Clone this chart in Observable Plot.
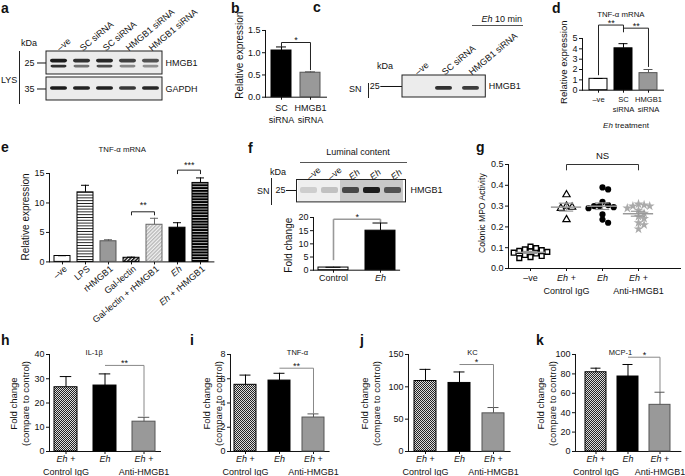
<!DOCTYPE html>
<html><head><meta charset="utf-8">
<script src="https://cdn.jsdelivr.net/npm/d3@7"></script>
<script src="https://cdn.jsdelivr.net/npm/@observablehq/plot@0.6"></script>
<style>
html,body{margin:0;padding:0;background:#fff;}
#fig{position:relative;width:685px;height:476px;overflow:hidden;font-family:"Liberation Sans",Arial,sans-serif;color:#111;background:#fff;}
.t{position:absolute;white-space:nowrap;line-height:1;}
.vl{position:absolute;border-left:1px solid #222;width:0;}
.hl{position:absolute;border-top:1px solid #555;height:0;}
</style></head>
<body>
<svg width="0" height="0" style="position:absolute">
<defs>
<pattern id="pLPS" width="4" height="2.8" patternUnits="userSpaceOnUse"><rect width="4" height="2.8" fill="#fff"/><rect y="0" width="4" height="0.9" fill="#111"/></pattern>
<pattern id="pEhR" width="4" height="2.8" patternUnits="userSpaceOnUse"><rect width="4" height="2.8" fill="#000"/><rect y="0" width="4" height="0.8" fill="#ddd"/></pattern>
<pattern id="pGal" width="2.6" height="2.6" patternUnits="userSpaceOnUse" patternTransform="rotate(45)"><rect width="2.6" height="2.6" fill="#fff"/><rect width="1.5" height="2.6" fill="#111"/></pattern>
<pattern id="pGalR" width="2.6" height="2.6" patternUnits="userSpaceOnUse" patternTransform="rotate(45)"><rect width="2.6" height="2.6" fill="#f4f4f4"/><rect width="1.4" height="2.6" fill="#b8b8b8"/></pattern>
<pattern id="pIgG" width="2" height="2" patternUnits="userSpaceOnUse"><rect width="2" height="2" fill="#ddd"/><rect width="1" height="1" fill="#222"/><rect x="1" y="1" width="1" height="1" fill="#222"/></pattern>
<filter id="blur" x="-30%" y="-60%" width="160%" height="220%"><feGaussianBlur stdDeviation="0.8"/></filter>
</defs>
</svg>
<div id="fig"></div>
<script>
// ---------------- DATA ----------------
// a: western blot (lysate)
const aLanes = ["–ve", "SC siRNA", "SC siRNA", "HMGB1 siRNA", "HMGB1 siRNA"];
const aRows = ["HMGB1", "GAPDH"];
const aKDa = ["25", "35"];
const aHMGB1Upper = [0.95, 0.85, 0.9, 0.78, 0.7];
const aHMGB1Lower = [0.85, 0.55, 0.72, 0.45, 0.4];
const aGAPDH = [0.95, 0.92, 0.93, 0.82, 0.9];
// b
const bCats = ["SC siRNA", "HMGB1 siRNA"];
const bLabels = ["SC\nsiRNA", "HMGB1\nsiRNA"];
const bValues = [1.05, 0.55];
const bErrors = [0.08, 0.02];
const bTicks = [0, 0.5, 1.0, 1.5];
const bBrackets = [{a: "SC siRNA", b: "HMGB1 siRNA", y: 1.23, da: 1.14, db: 0.61, label: "*"}];
// c: western blot (supernatant)
const cLanes = ["–ve", "SC siRNA", "HMGB1 siRNA"];
const cHMGB1 = [0, 0.85, 0.8];
// d
const dCats = ["–ve", "SC siRNA", "HMGB1 siRNA"];
const dLabels = ["–ve", "SC\nsiRNA", "HMGB1\nsiRNA"];
const dValues = [1.1, 4.05, 1.65];
const dErrors = [0.03, 0.45, 0.35];
const dTicks = [0, 1, 2, 3, 4, 5];
const dBrackets = [
  {a: "–ve", b: "SC siRNA", y: 6.3, da: 1.45, db: 5.9, label: "**"},
  {a: "SC siRNA", b: "HMGB1 siRNA", y: 6.0, da: 5.6, db: 2.25, label: "**"}
];
// e
const eCats = ["–ve", "LPS", "rHMGB1", "Gal-lectin", "Gal-lectin + rHMGB1", "Eh", "Eh + rHMGB1"];
const eValues = [1.0, 11.8, 3.5, 0.7, 6.3, 5.8, 13.4];
const eErrors = [0.05, 1.2, 0.25, 0.1, 1.1, 0.85, 0.85];
const eTicks = [0, 5, 10, 15];
const eBrackets = [
  {a: "Gal-lectin", b: "Gal-lectin + rHMGB1", y: 8.5, da: 7.9, db: 7.9, label: "**", sdy: -7},
  {a: "Eh", b: "Eh + rHMGB1", y: 15.57, da: 14.9, db: 14.9, label: "***", sdy: -5}
];
// f
const fLanes = ["–ve", "–ve", "Eh", "Eh", "Eh"];
const fGel = ["A", "A", "B", "B", "B"];
const fHMGB1 = [0.12, 0.18, 0.75, 0.95, 0.7];
const fCats = ["Control", "Eh"];
const fValues = [1.0, 15.0];
const fErrors = [0.1, 2.9];
const fTicks = [0, 5, 10, 15, 20];
const fBrackets = [{a: "Control", b: "Eh", y: 19.35, da: 3.8, db: 18.3, label: "*"}];
// g
const gGroups = ["–ve", "Eh + Control IgG", "Eh", "Eh + Anti-HMGB1"];
const gLabels = ["–ve", "Eh +\nControl IgG", "Eh", "Eh +\nAnti-HMGB1"];
const gNeg = [0.105, 0.098, 0.092, 0.088, 0.085, 0.082, 0.08, 0.076, 0.072, 0.065, 0.06, 0.055, 0.05];
const gIgG = [0.355, 0.30, 0.295, 0.29, 0.235];
const gEh = [0.39, 0.38, 0.32, 0.305, 0.30, 0.30, 0.295, 0.29, 0.26, 0.235, 0.22];
const gAnti = [0.31, 0.305, 0.30, 0.30, 0.29, 0.28, 0.265, 0.25, 0.24, 0.22, 0.21, 0.19];
const gTicks = [0, 0.1, 0.2, 0.3, 0.4, 0.5];
// h-k
const hkCats = ["Eh + Control IgG", "Eh", "Eh + Anti-HMGB1"];
const hkLabels = ["Eh +\nControl IgG", "Eh", "Eh +\nAnti-HMGB1"];
const hValues = [26.5, 27.2, 12.3], hErrors = [4.4, 4.8, 1.8];
const iValues = [5.5, 5.85, 2.8], iErrors = [0.8, 0.6, 0.3];
const jValues = [109, 106, 59], jErrors = [18, 17, 9];
const kValues = [81.7, 77.3, 48.1], kErrors = [4.2, 12.4, 13];
const hTicks = [0, 10, 20, 30, 40], iTicks = [0, 2, 4, 6, 8], jTicks = [0, 50, 100, 150], kTicks = [0, 20, 40, 60, 80, 100];
const hBrackets = [{a: "Eh", b: "Eh + Anti-HMGB1", y: 35.5, db: 14.5, label: "**"}];
const iBrackets = [{a: "Eh", b: "Eh + Anti-HMGB1", y: 6.87, db: 3.1, label: "**"}];
const jBrackets = [{a: "Eh", b: "Eh + Anti-HMGB1", y: 134.5, db: 68, label: "*"}];
const kBrackets = [{a: "Eh", b: "Eh + Anti-HMGB1", y: 97.2, db: 61.5, label: "*"}];

// ---------------- HELPERS ----------------
const FONT = "'Liberation Sans', Arial, Helvetica, sans-serif";
const fig = document.getElementById("fig");
const SVGNS = "http://www.w3.org/2000/svg";

function italicEh(root) {
  const walker = document.createTreeWalker(root, NodeFilter.SHOW_TEXT);
  const nodes = [];
  while (walker.nextNode()) if (/\bEh\b/.test(walker.currentNode.nodeValue)) nodes.push(walker.currentNode);
  for (const node of nodes) {
    const parent = node.parentNode;
    if (!parent || parent.nodeName === "title") continue;
    const isSvg = parent instanceof SVGElement;
    const frag = document.createDocumentFragment();
    for (const part of node.nodeValue.split(/(\bEh\b)/)) {
      if (!part) continue;
      if (part === "Eh") {
        const el = isSvg ? document.createElementNS(SVGNS, "tspan") : document.createElement("i");
        if (isSvg) el.setAttribute("font-style", "italic");
        el.textContent = "Eh";
        frag.appendChild(el);
      } else frag.appendChild(document.createTextNode(part));
    }
    parent.replaceChild(frag, node);
  }
}
function put(node, left, top) {
  node.style.position = "absolute";
  node.style.left = left + "px";
  node.style.top = top + "px";
  fig.appendChild(node);
  italicEh(node);
  return node;
}
function label(txt, x, base, o = {}) {
  const size = o.size ?? 9;
  const el = document.createElement("div");
  el.className = "t";
  el.textContent = txt;
  el.style.fontSize = size + "px";
  if (o.bold) el.style.fontWeight = "bold";
  el.style.top = (base - 0.8465 * size) + "px";
  el.style.left = x + "px";
  if (o.anchor === "middle") el.style.transform = "translateX(-50%)";
  if (o.anchor === "end") el.style.transform = "translateX(-100%)";
  fig.appendChild(el);
  italicEh(el);
}
function vline(x, y, h) { const d = document.createElement("div"); d.className = "vl"; d.style.left = x + "px"; d.style.top = y + "px"; d.style.height = h + "px"; fig.appendChild(d); }
function hline(x, y, w) { const d = document.createElement("div"); d.className = "hl"; d.style.left = x + "px"; d.style.top = y + "px"; d.style.width = w + "px"; fig.appendChild(d); }
const styleStr = fs => `font-family:${FONT};font-size:${fs}px;background:none;overflow:visible;color:#111;`;
const shade = v => { const g = Math.round(232 - 215 * v); return `rgb(${g},${g},${g})`; };

function blotPanel(p) {
  const lanesIdx = d3.range(p.lanes.length);
  const mL = 45, mR = 60, mT = 70, mB = 10;
  const fw = p.x1 - p.x0, fh = p.y1 - p.y0;
  const marks = [];
  if (p.laneBg) marks.push(Plot.cell(lanesIdx, {x: d => d, fill: d => p.laneBg[d]}), Plot.frame({stroke: "#222"}));
  else marks.push(Plot.cell(p.rows, {y: d => d, fill: "#ececec", stroke: "#222"}));
  for (const b of p.bands) {
    const data = lanesIdx.map(i => ({lane: i, row: b.row, v: b.ints[i]})).filter(d => d.v > 0);
    marks.push(Plot.cell(data, {x: "lane", y: "row", fill: d => shade(d.v), insetTop: b.t, insetBottom: b.b, insetLeft: b.l, insetRight: b.l, rx: 2, ariaLabel: "band"}));
  }
  marks.push(Plot.text(lanesIdx, {x: d => d, text: d => p.lanes[d], frameAnchor: "top", rotate: -40, textAnchor: "start", dx: p.ldx ?? -3, dy: p.ldy ?? -4, fontSize: 9}));
  marks.push(Plot.text(p.rows, {y: d => d, text: (d, i) => p.right[i], frameAnchor: "right", textAnchor: "start", dx: p.rdx ?? 3, fontSize: 9}));
  const svg = Plot.plot({
    width: mL + fw + mR, height: mT + fh + mB,
    marginLeft: mL, marginRight: mR, marginTop: mT, marginBottom: mB,
    style: styleStr(9),
    x: {type: "band", domain: lanesIdx, padding: 0, axis: null},
    y: {type: "band", domain: p.rows, paddingInner: p.rowGap ?? 0, paddingOuter: 0, tickSize: p.tick, tickPadding: p.tickPad, tickFormat: d => p.kda[p.rows.indexOf(d)], label: null},
    color: {type: "identity"},
    marks
  });
  svg.querySelectorAll('[aria-label="band"]').forEach(g => g.setAttribute("filter", "url(#blur)"));
  put(svg, p.x0 - mL, p.y0 - mT);
}

function barPanel(p) {
  const n = p.cats.length;
  const pi = 1 - p.bw / p.step, po = p.off / p.step;
  const fw = p.step * (n - pi + 2 * po);
  const fh = p.yB - p.yT;
  const mL = 70, mR = 30, mT = 40, mB = 60;
  const fs = p.fs ?? 9;
  const rows = p.cats.map((c, i) => ({cat: c, v: p.values[i], e: p.errors[i], fill: p.fills[i], stroke: p.strokes[i], label: p.labels[i]}));
  const marks = [
    Plot.barY(rows, {x: "cat", y: "v", fill: "fill", stroke: "stroke", strokeWidth: 1}),
    Plot.ruleX(rows, {x: "cat", y1: "v", y2: d => d.v + d.e, stroke: "stroke", strokeWidth: 1}),
    Plot.tickY(rows, {x: "cat", y: d => d.v + d.e, stroke: "stroke", strokeWidth: 1, insetLeft: p.bw * 0.25, insetRight: p.bw * 0.25})
  ];
  if (p.rotate) marks.push(Plot.text(rows, {x: "cat", text: "label", frameAnchor: "bottom", rotate: -40, textAnchor: "end", dx: p.labelDx ?? 3, dy: p.labelDy, fontSize: p.xfs ?? fs}));
  else marks.push(Plot.text(rows, {x: "cat", text: "label", frameAnchor: "bottom", textAnchor: "middle", lineAnchor: "top", dy: p.labelDy, lineHeight: p.lh ?? 1.3, fontSize: p.xfs ?? fs}));
  if (p.title) marks.push(Plot.text([p.title], {frameAnchor: "top", textAnchor: "middle", dx: p.titleX - (p.ax + fw / 2), dy: p.titleY - p.yT, fontSize: p.titleFs ?? 7.5}));
  if (p.ylabel) marks.push(Plot.text([p.ylabel], {frameAnchor: "left", textAnchor: "middle", rotate: -90, dx: p.ylabX - p.ax, dy: p.ylabY - (p.yT + p.yB) / 2, fontSize: p.ylabFs ?? 10, lineHeight: p.ylabLh ?? 1.2}));
  const col = p.brColor ?? "#222", sw = p.brWidth ?? 1;
  for (const br of p.brackets ?? []) {
    const ia = p.cats.indexOf(br.a), ib = p.cats.indexOf(br.b);
    marks.push(Plot.link([br], {x1: "a", x2: "b", y1: "y", y2: "y", stroke: col, strokeWidth: sw}));
    if (br.da != null) marks.push(Plot.link([br], {x1: "a", x2: "a", y1: "y", y2: "da", stroke: col, strokeWidth: sw}));
    if (br.db != null) marks.push(Plot.link([br], {x1: "b", x2: "b", y1: "y", y2: "db", stroke: col, strokeWidth: sw}));
    marks.push(Plot.text([br], {x: "a", y: "y", text: "label", textAnchor: "middle", dx: (ib - ia) * p.step / 2, dy: br.sdy ?? -2, fontSize: 9}));
  }
  const svg = Plot.plot({
    width: mL + fw + mR, height: mT + fh + mB,
    marginLeft: mL, marginRight: mR, marginTop: mT, marginBottom: mB,
    style: styleStr(fs),
    x: {type: "band", domain: p.cats, paddingInner: pi, paddingOuter: po, tickSize: 3, tickFormat: () => "", line: true, label: null},
    y: {domain: p.domain, ticks: p.ticks, tickSize: 3, tickPadding: 2, line: true, label: null, tickFormat: p.tf ?? (d => String(d))},
    color: {type: "identity"},
    marks
  });
  put(svg, p.ax - mL, p.yT - mT);
}

function beeswarm(vals, pxPerUnit, step, dist) {
  const order = d3.range(vals.length).sort((a, b) => d3.descending(vals[a], vals[b]));
  const placed = [], offs = new Array(vals.length);
  for (const i of order) {
    const y = vals[i] * pxPerUnit;
    let k = 0, x = 0;
    for (;;) {
      x = k === 0 ? 0 : (k % 2 ? 1 : -1) * Math.ceil(k / 2) * step;
      if (placed.every(q => Math.hypot(q.x - x, q.y - y) >= dist)) break;
      k++;
    }
    placed.push({x, y});
    offs[i] = x;
  }
  return offs;
}

function gPanel() {
  const ax = 508, yT = 164.3, yB = 268.3, fw = 172, fh = yB - yT;
  const pxX = 36, pxY = fh / 0.5;
  const mL = 70, mR = 20, mT = 40, mB = 50;
  const sets = [gNeg, gIgG, gEh, gAnti];
  const styles = [
    {symbol: "square", r: 2.7, fill: "#fff", stroke: "#000", strokeWidth: 1.4},
    {symbol: "triangle", r: 2.7, fill: "#fff", stroke: "#000", strokeWidth: 1.2},
    {symbol: "circle", r: 3.1, fill: "#000"},
    {symbol: "star", r: 3.1, fill: "#aaa"}
  ];
  const marks = [];
  sets.forEach((vals, gi) => {
    const offs = beeswarm(vals, pxY, 2.8, 4.6);
    const pts = vals.map((v, i) => ({x: gi + offs[i] / pxX, v}));
    marks.push(Plot.dot(pts, {x: "x", y: "v", ...styles[gi]}));
  });
  const stats = sets.map((vals, gi) => ({g: gi, m: d3.mean(vals), s: d3.deviation(vals) / Math.sqrt(vals.length)}));
  marks.push(
    Plot.ruleY(stats, {y: "m", x1: d => d.g - 0.42, x2: d => d.g + 0.42, stroke: "#999", strokeWidth: 1.5}),
    Plot.ruleX(stats, {x: "g", y1: d => d.m - d.s, y2: d => d.m + d.s, stroke: "#999", strokeWidth: 1.2}),
    Plot.ruleY(stats, {y: d => d.m + d.s, x1: d => d.g - 0.2, x2: d => d.g + 0.2, stroke: "#999", strokeWidth: 1.2}),
    Plot.ruleY(stats, {y: d => d.m - d.s, x1: d => d.g - 0.2, x2: d => d.g + 0.2, stroke: "#999", strokeWidth: 1.2}),
    Plot.text(gLabels.map((t, i) => ({i, t})), {x: "i", text: "t", frameAnchor: "bottom", textAnchor: "middle", lineAnchor: "top", dy: 4, lineHeight: 1.4, fontSize: 9}),
    Plot.text(["Colonic MPO Activity"], {frameAnchor: "left", textAnchor: "middle", rotate: -90, dx: 481.7 - ax, dy: 213 - (yT + yB) / 2, fontSize: 8.6}),
    Plot.link([{a: 1, b: 3, y: 0.5}], {x1: "a", x2: "b", y1: "y", y2: "y", stroke: "#333"}),
    Plot.link([{a: 1, y: 0.5, d: 0.472}], {x1: "a", x2: "a", y1: "y", y2: "d", stroke: "#333"}),
    Plot.link([{a: 3, y: 0.5, d: 0.472}], {x1: "a", x2: "a", y1: "y", y2: "d", stroke: "#333"}),
    Plot.text([{x: 2, y: 0.5, t: "NS"}], {x: "x", y: "y", text: "t", dy: -9, fontSize: 9.5})
  );
  const svg = Plot.plot({
    width: mL + fw + mR, height: mT + fh + mB,
    marginLeft: mL, marginRight: mR, marginTop: mT, marginBottom: mB,
    style: styleStr(9),
    x: {domain: [-22 / pxX, (fw - 22) / pxX], ticks: [0, 1, 2, 3], tickSize: 3, tickFormat: () => "", line: true, label: null},
    y: {domain: [0, 0.5], ticks: gTicks, tickSize: 3, tickPadding: 2, line: true, label: null, tickFormat: d3.format(".1f")},
    marks
  });
  put(svg, ax - mL, yT - mT);
}

// ---------------- DRAW ----------------
[["a", 1, 12.5], ["b", 231, 12.5], ["c", 313, 12], ["d", 552, 12.5], ["e", 1, 152], ["f", 248, 153], ["g", 476, 152], ["h", 1, 345], ["i", 190, 345], ["j", 360, 345], ["k", 536, 345]]
  .forEach(([t, x, y]) => label(t, x, y, {size: 14, bold: true}));

// a
blotPanel({x0: 45.7, x1: 161.7, y0: 50, y1: 100.7, lanes: aLanes, rows: aRows, kda: aKDa, right: aRows, rowGap: 0.112, tick: 9, tickPad: 3,
  bands: [{row: "HMGB1", ints: aHMGB1Upper, t: 7.75, b: 11.6, l: 3}, {row: "HMGB1", ints: aHMGB1Lower, t: 13.75, b: 6.6, l: 3.5}, {row: "GAPDH", ints: aGAPDH, t: 9.2, b: 10.15, l: 3}]});
label("kDa", 21, 46.2); label("LYS", 1, 83.3); vline(19, 50.7, 53.3);

// b
barPanel({ax: 265, yT: 30.3, yB: 97, domain: [0, 1.5], ticks: bTicks, tf: d3.format(".1f"), cats: bCats, labels: bLabels, values: bValues, errors: bErrors,
  fills: ["#000", "#999"], strokes: ["#000", "#555"], step: 29, bw: 20, off: 6, labelDy: 5, lh: 1.35,
  ylabel: "Relative expression", ylabX: 239, ylabY: 55, ylabFs: 10, brackets: bBrackets});

// c
blotPanel({x0: 401.7, x1: 485, y0: 75, y1: 97.3, lanes: cLanes, rows: ["HMGB1"], kda: ["25"], right: ["HMGB1"], tick: 21.7, tickPad: 1, ldy: -5,
  bands: [{row: "HMGB1", ints: cHMGB1, t: 11, b: 7.3, l: 5}]});
label("kDa", 377, 70); label("SN", 349, 92.3); vline(368, 83, 15);
label("Eh 10 min", 501.7, 22.3, {anchor: "middle"}); hline(471.7, 25, 51.6);

// d
barPanel({ax: 581.7, yT: 38.3, yB: 90, domain: [0, 5], ticks: dTicks, cats: dCats, labels: dLabels, values: dValues, errors: dErrors,
  fills: ["#fff", "#000", "#999"], strokes: ["#000", "#000", "#555"], step: 25.5, bw: 18, off: 6, labelDy: 5, lh: 1.3, xfs: 7.6,
  title: "TNF-α mRNA", titleX: 620, titleY: 11, titleFs: 7.8, ylabel: "Relative expression", ylabX: 563, ylabY: 62, ylabFs: 9.6, brackets: dBrackets});
label("Eh treatment", 626, 128.3, {anchor: "middle", size: 8});

// e
barPanel({ax: 49.3, yT: 173.3, yB: 261.7, domain: [0, 15], ticks: eTicks, cats: eCats, labels: eCats, values: eValues, errors: eErrors,
  fills: ["#fff", "url(#pLPS)", "#999", "url(#pGal)", "url(#pGalR)", "#000", "url(#pEhR)"],
  strokes: ["#000", "#000", "#555", "#000", "#666", "#000", "#000"], step: 23.4, bw: 16, off: 4, rotate: true, labelDx: 5, labelDy: 8,
  title: "TNF-α mRNA", titleX: 122, titleY: 146.7, titleFs: 7.8, ylabel: "Relative expression", ylabX: 25, ylabY: 216.7, ylabFs: 10, brackets: eBrackets});

// f
blotPanel({x0: 296, x1: 405, y0: 179.3, y1: 201.7, lanes: fLanes, rows: ["HMGB1"], kda: ["25"], right: ["HMGB1"], tick: 10, tickPad: 1, rdx: 5,
  laneBg: fGel.map(g => g === "A" ? "#efefef" : "#c9c9c9"),
  bands: [{row: "HMGB1", ints: fHMGB1, t: 8, b: 8, l: 2}]});
label("kDa", 270, 176); label("SN", 257, 195); vline(270.7, 178, 27);
label("Luminal content", 358, 155.6, {anchor: "middle"}); hline(300, 161.7, 106.7);
barPanel({ax: 313.3, yT: 217.3, yB: 270, domain: [0, 20], ticks: fTicks, cats: fCats, labels: fCats, values: fValues, errors: fErrors,
  fills: ["#fff", "#000"], strokes: ["#000", "#000"], step: 47.3, bw: 30, off: 4.4, labelDy: 3,
  ylabel: "Fold change", ylabX: 288.3, ylabY: 245, ylabFs: 10, brackets: fBrackets, brColor: "#999", brWidth: 1.6});

// g
gPanel();

// h-k
const hkCommon = {yT: 354, yB: 451, cats: hkCats, labels: hkLabels, fills: ["url(#pIgG)", "#000", "#999"], strokes: ["#000", "#000", "#555"],
  bw: 22, labelDy: 0.5, lh: 1.5, ylabel: "Fold change\n(compare to control)", ylabFs: 9.5, ylabLh: 1.25, brColor: "#888", titleY: 349, titleFs: 7.5};
barPanel({...hkCommon, ax: 49.3, domain: [0, 40], ticks: hTicks, values: hValues, errors: hErrors, step: 39, bw: 23, off: 5, title: "IL-1β", titleX: 94, ylabX: 19, ylabY: 403, brackets: hBrackets});
barPanel({...hkCommon, ax: 230, domain: [0, 8], ticks: iTicks, values: iValues, errors: iErrors, step: 34, off: 4.3, title: "TNF-α", titleX: 297, ylabX: 211.5, ylabY: 403, brackets: iBrackets});
barPanel({...hkCommon, ax: 407.7, domain: [0, 150], ticks: jTicks, values: jValues, errors: jErrors, step: 34, off: 5.8, title: "KC", titleX: 471.7, ylabX: 369, ylabY: 403, brackets: jBrackets});
barPanel({...hkCommon, ax: 575, domain: [0, 100], ticks: kTicks, values: kValues, errors: kErrors, step: 33, off: 8.7, title: "MCP-1", titleX: 620, ylabX: 545.5, ylabY: 403, brackets: kBrackets});
</script>
</body></html>
